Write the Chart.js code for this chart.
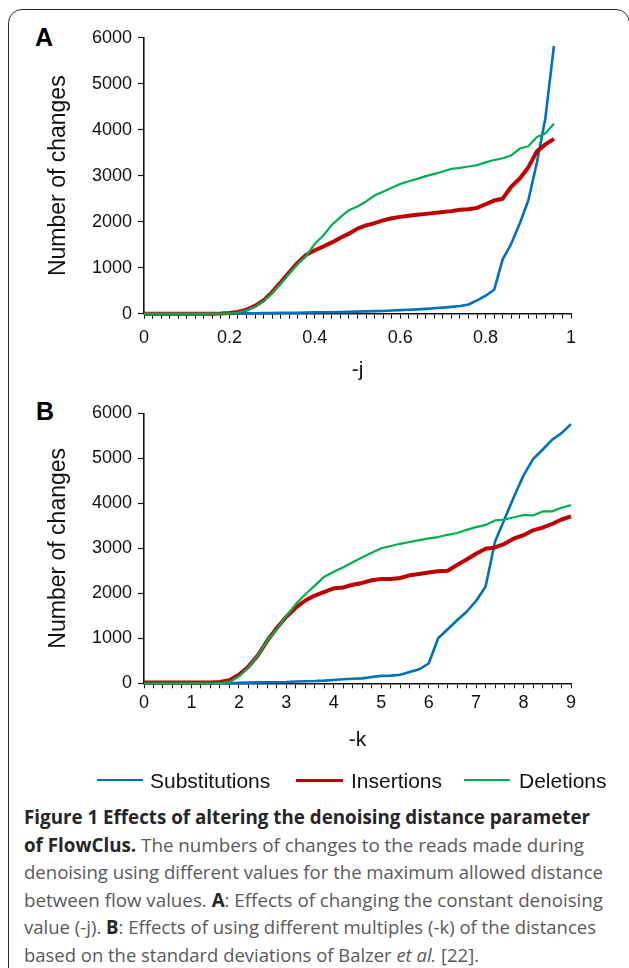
<!DOCTYPE html>
<html>
<head>
<meta charset="utf-8">
<script src="https://cdn.jsdelivr.net/npm/chart.js@4.4.1/dist/chart.umd.min.js"></script>
<style>
  html, body { margin: 0; padding: 0; background: #fff; }
  body { width: 629px; height: 968px; position: relative; overflow: hidden; font-family: "Liberation Sans", Arial, sans-serif; }
  #frame { position: absolute; left: 8px; top: 9px; width: 622px; height: 1000px; border: 1.5px solid #2a2a2a; border-radius: 14px; box-sizing: border-box; }
  canvas { position: absolute; left: 0; }
  .panel { position: absolute; font: bold 25px "Liberation Sans", Arial, sans-serif; color: #000; line-height: 25px; }
  .leg { position: absolute; font: 21px "Liberation Sans", Arial, sans-serif; color: #111; line-height: 21px; white-space: nowrap; }
  .legline { position: absolute; height: 0; }
  .cap { position: absolute; left: 24px; font: 19px "Open Sans", sans-serif; color: #5a5a5a; white-space: nowrap; transform-origin: 0 0; line-height: 22px; }
  .cap b { color: #262626; font-weight: 700; }
</style>
</head>
<body>
<div id="frame"></div>
<div class="panel" style="left:35px; top:25px;">A</div>
<div class="panel" style="left:36px; top:399px;">B</div>
<canvas id="cA" width="629" height="395" style="top:0px;"></canvas>
<canvas id="cB" width="629" height="375" style="top:395px;"></canvas>

<div class="legline" style="left:97px; top:779px; width:46px; border-top:2.5px solid #0070C0;"></div>
<div class="leg" style="left:150px; top:770px;">Substitutions</div>
<div class="legline" style="left:296px; top:778.5px; width:47px; border-top:3.5px solid #C00000;"></div>
<div class="leg" style="left:351px; top:770px;">Insertions</div>
<div class="legline" style="left:464px; top:779px; width:46px; border-top:2.5px solid #00B050;"></div>
<div class="leg" style="left:519px; top:770px;">Deletions</div>

<div class="cap" data-w="566" style="top:806px;"><b>Figure 1 Effects of altering the denoising distance parameter</b></div>
<div class="cap" data-w="560" style="top:833.6px;"><b>of FlowClus.</b> The numbers of changes to the reads made during</div>
<div class="cap" data-w="579" style="top:861.2px;">denoising using different values for the maximum allowed distance</div>
<div class="cap" data-w="579" style="top:888.8px;">between flow values. <b>A</b>: Effects of changing the constant denoising</div>
<div class="cap" data-w="572" style="top:916.4px;">value (-j). <b>B</b>: Effects of using different multiples (-k) of the distances</div>
<div class="cap" data-w="455" style="top:944px;">based on the standard deviations of Balzer <i>et al.</i> [22].</div>

<script>
// ---------- Data ----------
const seriesNames = ["Substitutions", "Insertions", "Deletions"];

// Panel A: -j values
const jValues = [0, 0.02, 0.04, 0.06, 0.08, 0.10, 0.12, 0.14, 0.16, 0.18,
  0.20, 0.22, 0.24, 0.26, 0.28, 0.30, 0.32, 0.34, 0.36, 0.38,
  0.40, 0.42, 0.44, 0.46, 0.48, 0.50, 0.52, 0.54, 0.56, 0.58,
  0.60, 0.62, 0.64, 0.66, 0.68, 0.70, 0.72, 0.74, 0.76, 0.78,
  0.80, 0.82, 0.84, 0.86, 0.88, 0.90, 0.92, 0.94, 0.96];
const subA = [0, 0, 0, 0, 0, 0, 0, 0, 0, 0,
  0, 5, 8, 10, 12, 15, 18, 20, 22, 25,
  28, 30, 33, 36, 40, 45, 50, 55, 60, 68,
  78, 86, 95, 105, 118, 132, 148, 168, 200, 290,
  390, 520, 1180, 1520, 1960, 2460, 3280, 4250, 5820];
const insA = [0, 0, 0, 0, 0, 0, 0, 0, 0, 5,
  15, 40, 90, 170, 290, 470, 680, 900, 1110, 1280,
  1380, 1460, 1550, 1650, 1740, 1850, 1920, 1970, 2030, 2075,
  2105, 2130, 2150, 2170, 2190, 2210, 2230, 2260, 2270, 2300,
  2380, 2460, 2500, 2760, 2940, 3180, 3530, 3680, 3800];
const delA = [0, 0, 0, 0, 0, 0, 0, 0, 0, 0,
  5, 25, 75, 150, 270, 450, 650, 870, 1080, 1260,
  1520, 1700, 1930, 2100, 2250, 2330, 2440, 2570, 2650, 2740,
  2820, 2880, 2930, 2990, 3040, 3090, 3150, 3170, 3200, 3230,
  3290, 3340, 3380, 3440, 3590, 3640, 3840, 3920, 4130];

// Panel B: -k values
const kValues = [0, 0.2, 0.4, 0.6, 0.8, 1.0, 1.2, 1.4, 1.6, 1.8,
  2.0, 2.2, 2.4, 2.6, 2.8, 3.0, 3.2, 3.4, 3.6, 3.8,
  4.0, 4.2, 4.4, 4.6, 4.8, 5.0, 5.2, 5.4, 5.6, 5.8,
  6.0, 6.2, 6.4, 6.6, 6.8, 7.0, 7.2, 7.4, 7.6, 7.8,
  8.0, 8.2, 8.4, 8.6, 8.8, 9.0];
const subB = [0, 0, 0, 0, 0, 0, 0, 0, 0, 0,
  10, 15, 20, 22, 25, 30, 40, 45, 50, 60,
  75, 90, 100, 110, 140, 165, 170, 190, 250, 310,
  440, 1000, 1200, 1400, 1590, 1830, 2150, 3150, 3650, 4150,
  4620, 4980, 5190, 5410, 5560, 5760];
const insB = [20, 20, 20, 20, 20, 20, 20, 20, 30, 70,
  190, 370, 620, 950, 1230, 1480, 1680, 1840, 1950, 2030,
  2110, 2130, 2190, 2230, 2290, 2320, 2320, 2340, 2400, 2430,
  2460, 2490, 2500, 2630, 2750, 2880, 2990, 3020, 3100, 3220,
  3290, 3400, 3460, 3540, 3640, 3710];
const delB = [0, 0, 0, 0, 0, 0, 0, 0, 0, 30,
  150, 350, 620, 950, 1200, 1500, 1760, 1980, 2170, 2370,
  2480, 2580, 2690, 2800, 2900, 3000, 3050, 3100, 3140, 3180,
  3220, 3250, 3300, 3340, 3410, 3470, 3520, 3620, 3640, 3690,
  3740, 3730, 3820, 3820, 3900, 3960];

const yTicks = [0, 1000, 2000, 3000, 4000, 5000, 6000];

// ---------- Chart builder ----------
const FONT = '"Liberation Sans", Arial, sans-serif';
const AX = '#111';
function pts(xs, ys) { return xs.map((x, i) => ({ x: x, y: ys[i] })); }

function build(id, xs, sub, ins, del, cfg) {
  const ctx = document.getElementById(id).getContext('2d');
  return new Chart(ctx, {
    type: 'line',
    data: {
      datasets: [
        { label: seriesNames[2], data: pts(xs, del), borderColor: '#00B050', borderWidth: 2.2, order: 0 },
        { label: seriesNames[1], data: pts(xs, ins), borderColor: '#C00000', borderWidth: 4, order: 1 },
        { label: seriesNames[0], data: pts(xs, sub), borderColor: '#0070C0', borderWidth: 2.6, order: 2 }
      ].map(d => Object.assign(d, { pointRadius: 0, tension: 0, fill: false, clip: false, borderJoinStyle: 'round', borderCapStyle: 'butt' }))
    },
    options: {
      responsive: false, animation: false, devicePixelRatio: 1,
      events: [],
      layout: { padding: { left: 40, right: 58, top: cfg.top, bottom: 0 } },
      plugins: { legend: { display: false }, tooltip: { enabled: false } },
      scales: {
        x: {
          type: 'linear', min: cfg.xmin, max: cfg.xmax,
          grid: { display: true, drawOnChartArea: false, drawTicks: true, tickLength: 5, tickWidth: 1, tickColor: AX, lineWidth: 1, color: AX },
          border: { display: true, color: AX, width: 1.6 },
          ticks: {
            stepSize: cfg.step, autoSkip: false, maxRotation: 0, minRotation: 0,
            padding: cfg.xpad, color: '#111', font: { family: FONT, size: 18 },
            callback: cfg.label
          },
          title: { display: true, text: cfg.xtitle, color: '#111', font: { family: FONT, size: 21 }, padding: { top: 0, bottom: cfg.tpad } },
          afterFit: s => { s.height = cfg.xh; }
        },
        y: {
          min: yTicks[0], max: yTicks[yTicks.length - 1],
          grid: { display: true, drawOnChartArea: false, drawTicks: true, tickLength: 6, tickWidth: 1.2, tickColor: AX },
          border: { display: true, color: AX, width: 1.6 },
          afterBuildTicks: s => { s.ticks = yTicks.map(v => ({ value: v })); },
          ticks: { padding: 6, color: '#111', font: { family: FONT, size: 18 }, callback: v => String(v) },
          title: { display: true, text: 'Number of changes', color: '#111', font: { family: FONT, size: 23 }, padding: { top: 5, bottom: 0 } },
          afterFit: s => { s.width = 104; }
        }
      }
    }
  });
}

build('cA', jValues, subA, insA, delA, {
  top: 37.7, xmin: 0, xmax: 1, step: 0.02, xpad: 9, xtitle: '-j', tpad: 11.7, xh: 395 - 313.7,
  label: v => { const r = Math.round(v * 5); return Math.abs(v * 5 - r) < 1e-6 ? String(+(r / 5).toFixed(1)) : ''; }
});
build('cB', kValues, subB, insB, delB, {
  top: 18.3, xmin: 0, xmax: 9, step: 0.2, xpad: 4, xtitle: '-k', tpad: 16.7, xh: 375 - 288.3,
  label: v => { const r = Math.round(v); return Math.abs(v - r) < 1e-6 ? String(r) : ''; }
});

// fit caption lines to their widths
document.querySelectorAll('.cap').forEach(el => {
  const w = el.getBoundingClientRect().width;
  const target = +el.dataset.w;
  el.style.transform = 'scaleX(' + (target / w).toFixed(4) + ')';
});
</script>
</body>
</html>
